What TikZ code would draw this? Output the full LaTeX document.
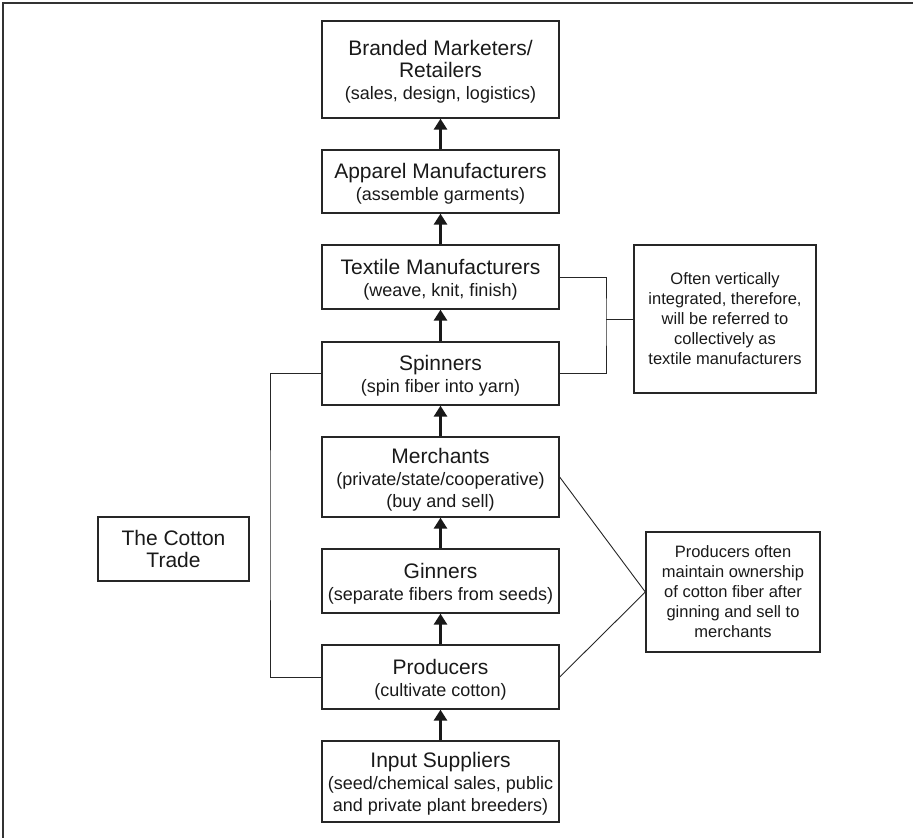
\documentclass[tikz,border=0pt]{standalone}
\usepackage{fontspec}
\setmainfont{Liberation Sans}
\usetikzlibrary{arrows.meta}
\newcommand\boxtitle[1]{{\fontsize{21}{22}\selectfont #1}}
\newcommand\firsttitle[1]{{\fontsize{21}{22}\selectfont\rule{0pt}{20pt}#1}}
\begin{document}
\begin{tikzpicture}[x=1pt,y=-1pt,
  box/.style={draw=black!85, line width=1.3pt, minimum width=237pt, inner sep=0pt,
    align=center, text=black!90, font=\fontsize{18}{22}\selectfont},
  note/.style={draw=black!85, line width=1.3pt, inner sep=0pt, align=center,
    text=black!90, font=\fontsize{16.5}{20}\selectfont},
  arr/.style={line width=2.8pt, black!90, -{Triangle[width=13pt,length=11pt]}},
  conn/.style={line width=0.9pt, black!85}]
\useasboundingbox (0,0) rectangle (913,838);
\draw[line width=1.8pt, black!80] (3,838) -- (3,3) -- (913,3);

\node[box, minimum height=97pt] (branded) at (440.5,69.5)
  {\firsttitle{Branded Marketers/}\\\boxtitle{Retailers}\\(sales, design, logistics)};
\node[box, minimum height=63pt] (apparel) at (440.5,181.5)
  {\firsttitle{Apparel Manufacturers}\\(assemble garments)};
\node[box, minimum height=64pt] (textile) at (440.5,277)
  {\firsttitle{Textile Manufacturers}\\(weave, knit, finish)};
\node[box, minimum height=63pt] (spinners) at (440.5,373.5)
  {\firsttitle{Spinners}\\(spin fiber into yarn)};
\node[box, minimum height=80pt] (merchants) at (440.5,477)
  {\firsttitle{Merchants}\\(private/state/cooperative)\\(buy and sell)};
\node[box, minimum height=64pt] (ginners) at (440.5,581)
  {\firsttitle{Ginners}\\(separate fibers from seeds)};
\node[box, minimum height=64pt] (producers) at (440.5,677)
  {\firsttitle{Producers}\\(cultivate cotton)};
\node[box, minimum height=81pt] (input) at (440.5,781.5)
  {\firsttitle{Input Suppliers}\\(seed/chemical sales, public\\and private plant breeders)};

\node[note, minimum width=182pt, minimum height=148pt] (note1) at (725,319)
  {Often vertically\\integrated, therefore,\\will be referred to\\collectively as\\textile manufacturers};
\node[note, minimum width=174pt, minimum height=120pt] (note2) at (733,592)
  {Producers often\\maintain ownership\\of cotton fiber after\\ginning and sell to\\merchants};
\node[box, minimum width=151pt, minimum height=64pt] (cotton) at (173.5,549)
  {\boxtitle{The Cotton}\\\boxtitle{Trade}};

\draw[arr] (apparel.north) -- (branded.south);
\draw[arr] (textile.north) -- (apparel.south);
\draw[arr] (spinners.north) -- (textile.south);
\draw[arr] (merchants.north) -- (spinners.south);
\draw[arr] (ginners.north) -- (merchants.south);
\draw[arr] (producers.north) -- (ginners.south);
\draw[arr] (input.north) -- (producers.south);

\coordinate (j1) at (606,319);
\draw[conn] (textile.east) -| (j1) |- (spinners.east);
\draw[conn] (j1) -- (note1.west);
\coordinate (j2) at (270,525);
\draw[conn] (spinners.west) -| (j2) |- (producers.west);
\draw[conn] (merchants.east) -- (note2.west) -- (producers.east);
\end{tikzpicture}
\end{document}
